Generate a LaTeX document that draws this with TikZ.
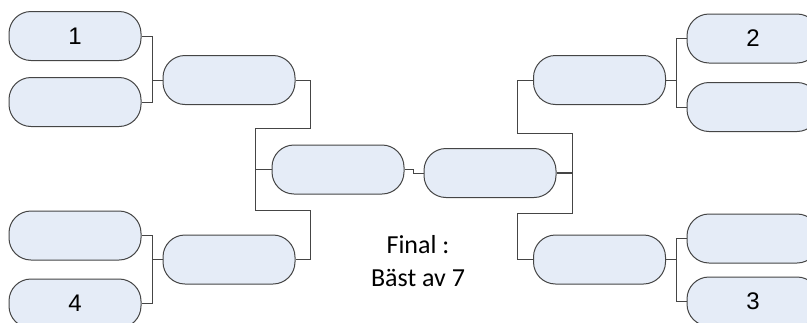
\documentclass[tikz,border=0pt]{standalone}
\usepackage{fontspec}
\setmainfont{Carlito}
\newfontfamily\numfont{Liberation Sans}
\definecolor{boxfill}{HTML}{E5ECF7}
\definecolor{edgecol}{HTML}{454545}
\begin{document}
\begin{tikzpicture}[x=1pt,y=-1pt,
  team/.style={draw=edgecol,line width=1pt,fill=boxfill,rounded corners=22pt,
    minimum width=132pt,minimum height=49pt,inner sep=0pt,
    font=\numfont\fontsize{24}{28}\selectfont},
  link/.style={draw=edgecol,line width=0.9pt}]
\useasboundingbox (0,0) rectangle (807,322);
\clip (0,0) rectangle (807,322);
% left column
\node[team] (L1) at (75,36) {1};
\node[team] (L2) at (75,102) {};
\node[team] (L3) at (75,235.5) {};
\node[team] (L4) at (75,303.5) {4};
% left round 2
\node[team] (LT) at (229,80) {};
\node[team] (LB) at (229,259.5) {};
% semifinal / final
\node[team] (S) at (338,169.5) {};
\node[team] (F) at (490,173) {};
% right round 2
\node[team] (RT) at (599.5,80) {};
\node[team] (RB) at (599.5,259.5) {};
% right column
\node[team] (R1) at (753,38.5) {2};
\node[team] (R2) at (753,107) {};
\node[team] (R3) at (753,238.5) {};
\node[team] (R4) at (753,301.5) {3};
% text
\node[align=center,font=\fontsize{26}{33}\selectfont] (T) at (418,261) {Final :\\Bäst av 7};
% coordinates
\coordinate (a1) at (152,36);
\coordinate (a2) at (152,102);
\coordinate (a3) at (152,235.5);
\coordinate (a4) at (152,303.5);
\coordinate (b1) at (310,80);
\coordinate (b2) at (310,128);
\coordinate (b3) at (255,128);
\coordinate (b4) at (255,210);
\coordinate (b5) at (310,210);
\coordinate (b6) at (310,259.5);
\coordinate (c1) at (413.5,169.5);
\coordinate (c2) at (413.5,173);
\coordinate (d0) at (572,173);
\coordinate (d1) at (517,80);
\coordinate (d2) at (517,133);
\coordinate (d3) at (572,133);
\coordinate (d4) at (572,213);
\coordinate (d5) at (517,213);
\coordinate (d6) at (517,259.5);
\coordinate (e1) at (676,38.5);
\coordinate (e2) at (676,107);
\coordinate (e3) at (676,238.5);
\coordinate (e4) at (676,301.5);
% connectors
\draw[link] (L1.east) -- (a1) -- (a2) -- (L2.east);
\draw[link] (LT.west) -- (LT.west -| a1);
\draw[link] (L3.east) -- (a3) -- (a4) -- (L4.east);
\draw[link] (LB.west) -- (LB.west -| a1);
\draw[link] (LT.east) -- (b1) -- (b2) -- (b3) -- (b4) -- (b5) -- (b6) -- (LB.east);
\draw[link] (S.west) -- (S.west -| b3);
\draw[link] (S.east) -- (c1) -- (c2) -- (F.west);
\draw[link,line width=1.8pt] (F.east) -- (d0);
\draw[link] (RT.west) -- (d1) -- (d2) -- (d3) -- (d4) -- (d5) -- (d6) -- (RB.west);
\draw[link] (R1.west) -- (e1) -- (e2) -- (R2.west);
\draw[link] (RT.east) -- (RT.east -| e1);
\draw[link] (R3.west) -- (e3) -- (e4) -- (R4.west);
\draw[link] (RB.east) -- (RB.east -| e3);
\end{tikzpicture}
\end{document}
